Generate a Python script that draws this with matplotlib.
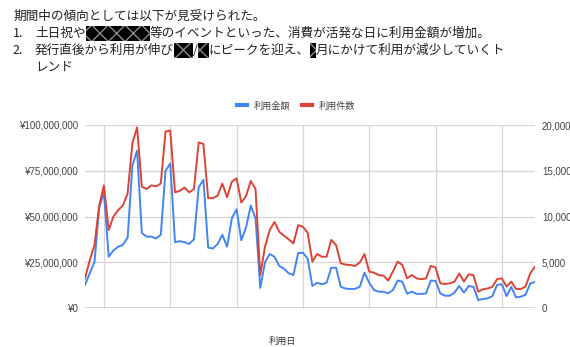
import matplotlib
matplotlib.use('Agg')
import matplotlib.pyplot as plt
from matplotlib.patches import Rectangle
from matplotlib.lines import Line2D

# ---------------- data ----------------
days = list(range(96))
amount = [12600000, 19000000, 25000000, 55000000, 63000000, 28000000, 31500000, 33500000,
          34500000, 38500000, 78000000, 86000000, 41000000, 39000000, 39000000, 38000000,
          40000000, 75000000, 79000000, 36000000, 36500000, 36000000, 35000000, 37500000,
          66000000, 70000000, 33000000, 32500000, 35000000, 40000000, 33500000, 49000000,
          54000000, 37000000, 44000000, 56000000, 49000000, 11000000, 25000000, 29500000,
          28000000, 23000000, 21500000, 19000000, 18000000, 30000000, 30200000, 27000000,
          12000000, 13800000, 13000000, 13800000, 22000000, 22000000, 11600000, 10600000,
          10400000, 10400000, 11600000, 19300000, 13800000, 9800000, 8900000, 8900000,
          8000000, 9800000, 15000000, 14400000, 7800000, 8900000, 7700000, 7700000,
          8000000, 15000000, 14800000, 8000000, 6700000, 6700000, 8400000, 12000000,
          8400000, 12000000, 11600000, 4400000, 4900000, 5300000, 6500000, 12600000,
          13000000, 6500000, 11500000, 5800000, 6200000, 7200000, 13400000, 14200000]
count = [3240, 5200, 6880, 11200, 13400, 8520, 10000, 10700, 11200, 12520, 18000, 19740,
         13260, 13000, 13400, 13300, 13600, 19280, 19400, 12640, 12800, 13160, 12640, 13000,
         18100, 17920, 12000, 12000, 12280, 13600, 12100, 13800, 14180, 11520, 12240, 13880,
         13000, 3600, 6700, 8520, 9400, 8340, 7900, 7500, 7060, 9060, 8880, 8240,
         5060, 5900, 5600, 5600, 7440, 6880, 4880, 4740, 4700, 4600, 4960, 5900,
         3980, 3860, 3600, 3540, 3000, 3980, 5060, 4700, 3240, 3600, 3240, 3140,
         3240, 4600, 4440, 2700, 2620, 2700, 2880, 3780, 2880, 3680, 3600, 1780,
         2040, 2140, 2300, 3160, 3240, 2340, 2880, 2080, 2080, 2340, 3800, 4520]
amount_ticks = [0, 25000000, 50000000, 75000000, 100000000]
count_ticks = [0, 5000, 10000, 15000, 20000]
grid_days = [4, 18, 32, 46, 60, 74, 88]
series_names = ['利用金額', '利用件数']
x_label = '利用日'

heading = '期間中の傾向としては以下が見受けられた。'
item1 = ['土日祝や', 64, '等のイベントといった、消費が活発な日に利用金額が増加。']
item2 = ['発行直後から利用が伸び', 19, '/', 11, 'にピークを迎え、', 6, '月にかけて利用が減少していくト']
item2_cont = 'レンド'

# ---------------- figure ----------------
W, H = 570, 347
plt.rcParams['font.family'] = ['Noto Sans CJK JP', 'DejaVu Sans']
fig = plt.figure(figsize=(W / 100, H / 100), dpi=100)
renderer = fig.canvas.get_renderer()

BLUE = '#4285F4'
RED = '#DB4437'
TXT = '#222222'
FS = 9.1


def put_line(y_px, x_px, parts):
    x = x_px
    for p in parts:
        if isinstance(p, (int, float)):
            r = Rectangle((x / W, 1 - (y_px + 7.5) / H), p / W, 15 / H,
                          transform=fig.transFigure, facecolor='black',
                          edgecolor='#8a8a8a', hatch='xx', linewidth=0)
            fig.patches.append(r)
            x += p
        else:
            t = fig.text(x / W, 1 - y_px / H, p, fontsize=FS, va='center', ha='left',
                         color=TXT)
            bb = t.get_window_extent(renderer)
            x = bb.x1 * 100 / fig.dpi


put_line(16, 13, [heading])
put_line(33.5, 13, ['1.'])
put_line(33.5, 35, item1)
put_line(50.5, 13, ['2.'])
put_line(50.5, 35, item2)
put_line(67, 35, [item2_cont])

ax = fig.add_axes([85 / W, 1 - 308 / H, 450 / W, 183 / H])
ax2 = ax.twinx()

ax.plot(days, amount, color=BLUE, lw=1.4, solid_joinstyle='round')
ax2.plot(days, count, color=RED, lw=1.4, solid_joinstyle='round')

ax.set_xlim(0, 95)
ax.set_ylim(0, 100000000)
ax2.set_ylim(0, 20000)

ax.set_yticks(amount_ticks)
ax.set_yticklabels(['¥{:,}'.format(v) for v in amount_ticks])
ax2.set_yticks(count_ticks)
ax2.set_yticklabels(['{:,}'.format(v) for v in count_ticks])
ax.set_xticks(grid_days)
ax.set_xticklabels([])

for a in (ax, ax2):
    for s in a.spines.values():
        s.set_visible(False)
    a.tick_params(length=0, colors='#444444', labelsize=7, pad=5)
    for lab in a.get_yticklabels():
        lab.set_fontfamily(['Liberation Sans', 'DejaVu Sans'])

ax.grid(True, color='#d6d6d6', lw=0.9)
ax.set_axisbelow(True)
ax.axhline(0, color='#555555', lw=1.0, zorder=3)

handles = [Line2D([], [], color=BLUE, lw=3), Line2D([], [], color=RED, lw=3)]
fig.legend(handles, series_names, loc='center', bbox_to_anchor=(296 / W, 1 - 106 / H),
           ncol=2, frameon=False, fontsize=6.6, handlelength=1.1, handletextpad=0.7,
           columnspacing=1.3, labelcolor='#444444')

fig.text(282 / W, 1 - 341 / H, x_label, fontsize=6.6, ha='center', va='center',
         color='#333333')

fig.savefig('out.png', dpi=100)
